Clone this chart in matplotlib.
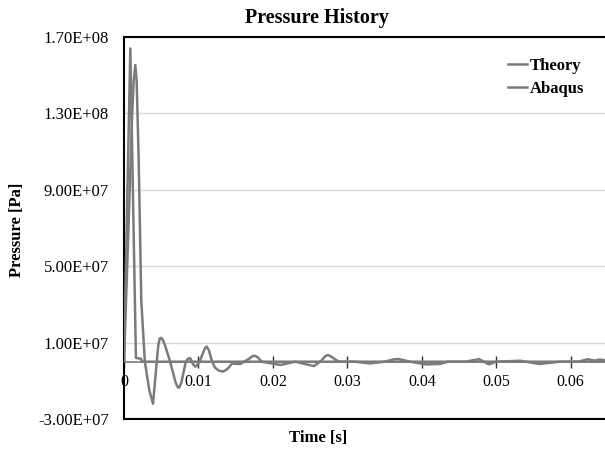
import matplotlib
matplotlib.use("Agg")
import matplotlib.pyplot as plt

# theory pulse (time [s], pressure [Pa])
theory_t = [0.0, 0.00085, 0.0016, 0.0023, 0.0024, 0.0646]
theory_p = [0.0, 1.64e8, 2.0e6, 1.5e6, 0.0, 0.0]

# abaqus response
abaqus_t = [0.0, 0.0006, 0.0011, 0.0013, 0.00152, 0.0017, 0.00197, 0.00232, 0.0028,
            0.0034, 0.0039, 0.0044, 0.0046, 0.0048, 0.005, 0.0052, 0.0055, 0.0062,
            0.0069, 0.0072, 0.0074, 0.0077, 0.0083, 0.0086, 0.0089, 0.0093, 0.0096,
            0.0101, 0.0106, 0.0109, 0.0111, 0.0114, 0.0118, 0.0122, 0.0127, 0.0133,
            0.0139, 0.0145, 0.0156, 0.0168, 0.0172, 0.0176, 0.018, 0.0185, 0.021,
            0.023, 0.0255, 0.0265, 0.027, 0.0274, 0.0279, 0.0285, 0.029, 0.031,
            0.033, 0.035, 0.0362, 0.0368, 0.0375, 0.0384, 0.0406, 0.0424, 0.0435,
            0.0458, 0.0477, 0.049, 0.05, 0.0532, 0.0558, 0.0585, 0.061, 0.0623,
            0.0632, 0.0638, 0.0646]
abaqus_p = [0.0, 7.0e7, 1.3e8, 1.47e8, 1.553e8, 1.47e8, 1.06e8, 3.2e7, 0.0,
            -1.5e7, -2.2e7, 0.0, 8.5e6, 1.22e7, 1.25e7, 1.15e7, 8.7e6, 0.0,
            -1.05e7, -1.33e7, -1.36e7, -1.1e7, 0.0, 1.6e6, 1.8e6, -1.5e6, -2.6e6,
            -0.5e6, 4.5e6, 7.2e6, 7.9e6, 6.0e6, 0.5e6, -3.0e6, -4.6e6, -5.2e6,
            -3.8e6, -1.0e6, -1.2e6, 1.5e6, 2.8e6, 3.1e6, 2.2e6, 0.0, -1.7e6,
            0.0, -2.3e6, 0.5e6, 2.8e6, 3.5e6, 2.5e6, 0.8e6, 0.0, 0.0,
            -0.9e6, 0.0, 1.2e6, 1.4e6, 0.9e6, 0.0, -1.4e6, -1.2e6, 0.0,
            0.0, 1.3e6, -1.4e6, 0.0, 0.5e6, -1.2e6, 0.0, 0.0, 1.3e6,
            0.6e6, 1.1e6, 0.8e6]

y_ticks = [-3e7, 1e7, 5e7, 9e7, 1.3e8, 1.7e8]
x_ticks = [0, 0.01, 0.02, 0.03, 0.04, 0.05, 0.06]
x_tick_labels = ["0", "0.01", "0.02", "0.03", "0.04", "0.05", "0.06"]

serif = "Liberation Serif"
line_col = "#7b7b7b"

fig = plt.figure(figsize=(6.05, 4.5), dpi=100)
ax = fig.add_axes([124 / 605, 31 / 450, 481 / 605, 382 / 450])

ax.plot(theory_t, theory_p, color=line_col, lw=1.8, label="Theory", zorder=3)
ax.plot(abaqus_t, abaqus_p, color=line_col, lw=1.8, label="Abaqus", zorder=3)

ax.set_xlim(0, 0.0646)
ax.set_ylim(-3e7, 1.7e8)
ax.set_yticks(y_ticks)
ax.set_yticklabels([f"{v:.2E}" for v in y_ticks], fontfamily=serif, fontsize=12)
ax.tick_params(axis="y", length=0, pad=11)
ax.set_xticks([])
ax.grid(axis="y", color="#d9d9d9", lw=1)
ax.set_axisbelow(True)

for side in ["top", "left", "bottom"]:
    ax.spines[side].set_linewidth(1.5)
    ax.spines[side].set_color("black")
ax.spines["right"].set_visible(False)

# horizontal axis crossing at zero
zero_frac = (0 - y_ticks[0]) / (y_ticks[-1] - y_ticks[0])
sec = ax.secondary_xaxis(zero_frac)
sec.set_xticks(x_ticks)
sec.set_xticklabels(x_tick_labels, fontfamily=serif, fontsize=11.5)
sec.tick_params(direction="inout", length=9, width=1, color="#333333", pad=4)
sec.spines["bottom"].set_color(line_col)
sec.spines["bottom"].set_linewidth(1.2)

leg = ax.legend(loc="upper right", bbox_to_anchor=(584 / 605, 392 / 450),
                bbox_transform=fig.transFigure, frameon=False, borderpad=0,
                borderaxespad=0, handlelength=1.15, handletextpad=0.15,
                labelspacing=0.4, prop={"family": serif, "weight": "bold", "size": 12})

fig.text(317 / 605, 1 - 18 / 450, "Pressure History", ha="center", va="center",
         fontfamily=serif, fontweight="bold", fontsize=14.5)
fig.text(318 / 605, 1 - 438 / 450, "Time [s]", ha="center", va="center",
         fontfamily=serif, fontweight="bold", fontsize=12)
fig.text(17 / 605, 1 - 230 / 450, "Pressure [Pa]", ha="center", va="center",
         rotation=90, fontfamily=serif, fontweight="bold", fontsize=12)

fig.savefig("out.png", dpi=100)
